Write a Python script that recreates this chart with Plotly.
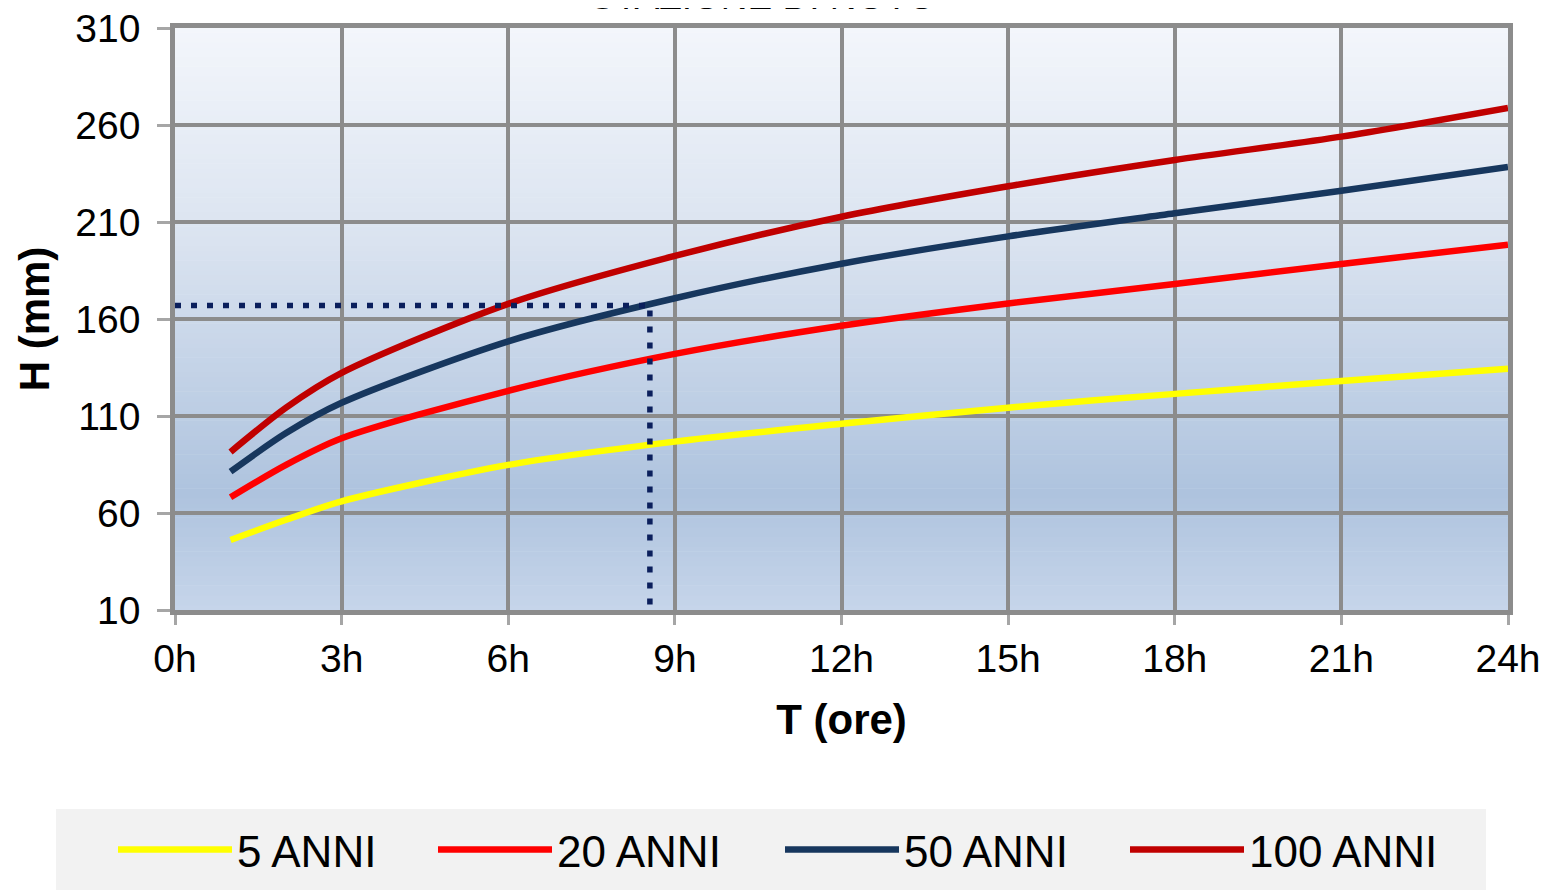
import plotly.graph_objects as go

# ---- data ----
hours = [1, 2, 3, 6, 9, 12, 15, 18, 21, 24]
h_5 = [46.1, 56.5, 66.0, 84.8, 96.8, 106.0, 114.3, 121.4, 128.0, 134.4]
h_20 = [68.1, 84.8, 98.5, 123.0, 142.0, 156.5, 168.0, 178.0, 188.4, 198.3]
h_50 = [81.3, 101.2, 116.8, 148.5, 170.7, 188.5, 202.6, 214.5, 226.1, 238.4]
h_100 = [91.5, 114.3, 132.2, 167.8, 192.5, 212.7, 228.4, 242.0, 254.0, 268.8]

series_names = ["5 ANNI", "20 ANNI", "50 ANNI", "100 ANNI"]
series_values = [h_5, h_20, h_50, h_100]
series_colors = ["#FFFF00", "#FF0000", "#17375E", "#C00000"]

ref_h = 167.0      # reading level (mm)
ref_t = 8.55       # corresponding duration (h)

x_ticks = [0, 3, 6, 9, 12, 15, 18, 21, 24]
x_tick_labels = ["0h", "3h", "6h", "9h", "12h", "15h", "18h", "21h", "24h"]
y_ticks = [10, 60, 110, 160, 210, 260, 310]

title_text = "STAZIONE DI NOTO"
x_title = "T (ore)"
y_title = "H (mm)"

# ---- figure geometry (page body adds an 8px offset) ----
OFF = 8
W, H = 1547 - OFF, 890 - OFF
L, T = 175 - OFF, 28 - OFF
R = W - (1508 - OFF)
B = H - (610 - OFF)
PW, PH = W - L - R, H - T - B


def sx(px):   # screen x -> paper x
    return (px - OFF - L) / PW


def sy(py):   # screen y -> paper y
    return (H - B - (py - OFF)) / PH


fig = go.Figure()

ITEM_W = 114
entry_spacing = [320, 347, 345, 330]   # px between starts of legend entries
for name, vals, col, sp in zip(series_names, series_values, series_colors, entry_spacing):
    fig.add_trace(go.Scatter(
        x=hours, y=vals, name=name, mode="lines",
        line=dict(color=col, width=6.5, shape="spline", smoothing=0.8),
        legendwidth=sp - (ITEM_W + 15),
    ))

fig.add_trace(go.Scatter(
    x=[0, ref_t, ref_t], y=[ref_h, ref_h, y_ticks[0]], mode="lines",
    line=dict(color="#0B1F5C", width=5.5, dash="6px,10px"),
    showlegend=False, hoverinfo="skip",
))

# ---- gradient background (strips) ----
def hex2rgb(h):
    h = h.lstrip("#")
    return [int(h[i:i + 2], 16) for i in (0, 2, 4)]


stops = [(310, "#F3F6FB"), (200, "#DAE3F0"), (70, "#AEC3DE"), (10, "#C6D5EA")]
shapes = []
n = 120
y0, y1 = 10, 310
for i in range(n):
    a = y0 + (y1 - y0) * i / n
    b = y0 + (y1 - y0) * (i + 1) / n
    m = (a + b) / 2
    for j in range(len(stops) - 1):
        hi, chi = stops[j]
        lo, clo = stops[j + 1]
        if lo <= m <= hi:
            f = (m - lo) / (hi - lo)
            c1, c2 = hex2rgb(clo), hex2rgb(chi)
            c = [round(c1[k] + (c2[k] - c1[k]) * f) for k in range(3)]
            break
    shapes.append(dict(type="rect", xref="x domain", yref="y", x0=0, x1=1,
                       y0=a, y1=b + 0.3, fillcolor="rgb(%d,%d,%d)" % tuple(c),
                       line=dict(width=0), layer="below"))

# legend background box
shapes.append(dict(type="rect", xref="paper", yref="paper",
                   x0=sx(56), x1=sx(1486), y0=sy(809), y1=sy(900),
                   fillcolor="#F2F2F2", line=dict(width=0), layer="below"))

grid_col = "#8C8C8C"
font_family = "Liberation Sans, Arial, sans-serif"

fig.update_layout(
    width=W, height=H,
    margin=dict(l=L, r=R, t=T, b=B, autoexpand=False),
    paper_bgcolor="white", plot_bgcolor="rgba(0,0,0,0)",
    font=dict(family=font_family, color="#000000"),
    shapes=shapes,
    showlegend=True,
    legend=dict(
        orientation="h", xref="paper", yref="paper",
        x=sx(113), xanchor="left", y=sy(850), yanchor="middle",
        bgcolor="rgba(0,0,0,0)", font=dict(size=44, family=font_family, color="#000000"),
        itemwidth=ITEM_W, traceorder="normal",
    ),
    annotations=[dict(
        text=title_text, xref="paper", yref="paper",
        x=sx(763), y=sy(19), xanchor="center", yanchor="bottom",
        showarrow=False, font=dict(size=37, family=font_family, color="#000000"),
    )],
)

fig.update_xaxes(
    range=[0, 24], tickvals=x_ticks, ticktext=x_tick_labels,
    showgrid=True, gridcolor=grid_col, gridwidth=3.5,
    showline=True, linecolor=grid_col, linewidth=4.5, mirror=True,
    ticks="outside", ticklen=10, tickwidth=3, tickcolor="#A6A6A6",
    tickfont=dict(size=39, family=font_family, color="#000000"),
    ticklabeloverflow="allow",
    title=dict(text="<b>" + x_title + "</b>", font=dict(size=42, family=font_family, color="#000000"), standoff=28),
    zeroline=False, fixedrange=True, automargin=False,
)
fig.update_yaxes(
    range=[10, 310], tickvals=y_ticks,
    showgrid=True, gridcolor=grid_col, gridwidth=3.5,
    showline=True, linecolor=grid_col, linewidth=4.5, mirror=True,
    ticks="outside", ticklen=13, tickwidth=3, tickcolor="#A6A6A6", ticklabelstandoff=9,
    tickfont=dict(size=39, family=font_family, color="#000000"),
    ticklabeloverflow="allow",
    title=dict(text="<b>" + y_title + "</b>", font=dict(size=42, family=font_family, color="#000000"), standoff=14),
    zeroline=False, fixedrange=True, automargin=False,
)

fig.write_html("out.html")
